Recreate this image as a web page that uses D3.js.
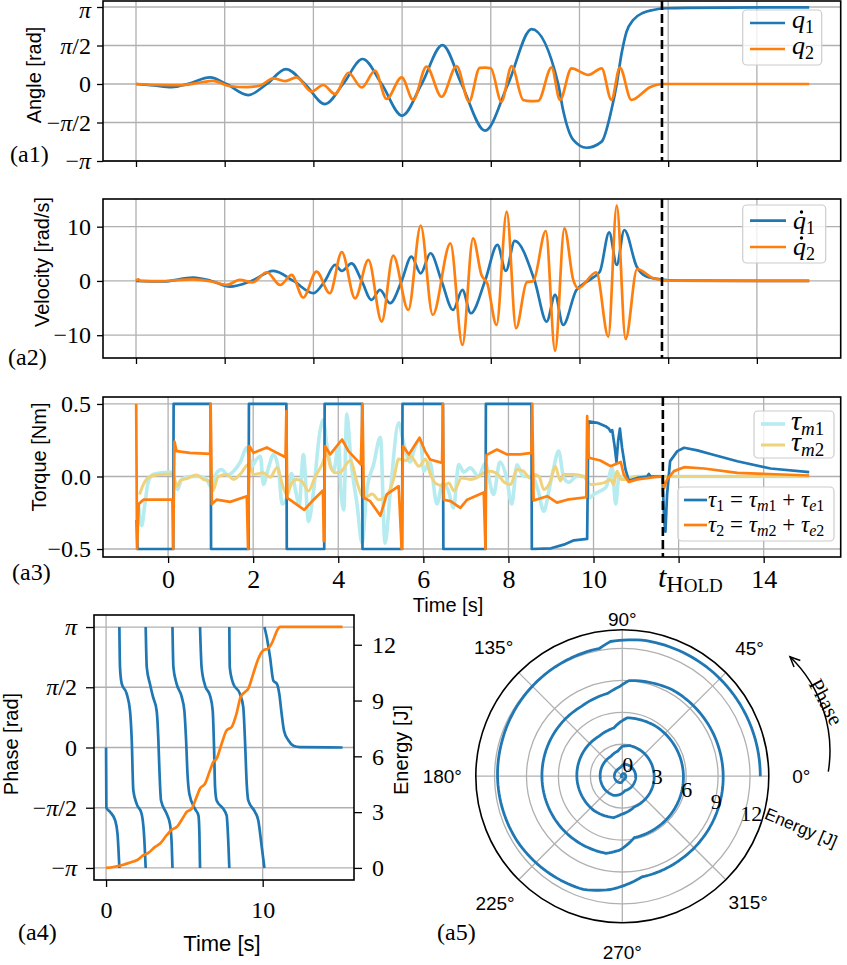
<!DOCTYPE html>
<html><head><meta charset="utf-8">
<script src="https://cdn.jsdelivr.net/npm/d3@7/dist/d3.min.js"></script>
<style>html,body{margin:0;padding:0;background:#fff;}svg{display:block;}</style>
</head><body>
<svg id="fig" width="847" height="965" viewBox="0 0 847 965"></svg>
<script>
// ================= DATA =================
const angleTicks = [-Math.PI, -Math.PI/2, 0, Math.PI/2, Math.PI];
const angleTickLabels = ["−π","−π/2","0","π/2","π"];
const velTicks = [-10, 0, 10];
const velTickLabels = ["−10","0","10"];
const torqueTicks = [-0.5, 0, 0.5];
const torqueTickLabels = ["−0.5","0.0","0.5"];
const timeTicksTop = [0,2,4,6,8,10,12,14];
const timeTicksTorque = [0,2,4,6,8,10,12,14];
const timeTickLabelsTorque = ["0","2","4","6","8","10","","14"];
const energyTicks = [0,3,6,9,12];
const energyTickLabels = ["0","3","6","9","12"];
const timeTicksA4 = [0,10];
const polarRings = [3,6,9,12];
const polarRadialLabels = [0,3,6,9,12];
const polarAngles = [0,45,90,135,180,225,270,315];
const tHoldTop = 11.86;     // time of HOLD in (a1)/(a2) time units
const tHoldTorque = 11.63;  // time of HOLD in (a3) time units

// (a1) joint angles [t, rad]
const q1 = [[0,0],[0.4,-0.06],[0.8,-0.13],[1.2,0.02],[1.67,0.27],[2.04,0],[2.53,-0.45],[2.95,0],[3.38,0.61],[3.81,0],[4.26,-0.82],[4.67,0],[5.11,1.02],[5.54,0],[6.0,-1.29],[6.44,0],[6.91,1.59],[7.34,0],[7.87,-1.9],[8.39,0],[8.92,2.24],[9.52,0],[9.63,-1.06],[9.86,-2.28],[10.16,-2.6],[10.5,-2.35],[10.72,-1.06],[10.84,0],[10.95,1.25],[11.06,2.13],[11.21,2.61],[11.44,2.91],[11.66,3.02],[11.96,3.09],[12.41,3.11],[15.18,3.13]];
const q2 = [[0,0],[0.5,-0.04],[1.0,-0.05],[1.4,0.05],[1.74,0.13],[2.1,-0.08],[2.5,-0.13],[2.8,-0.06],[3.1,0.23],[3.36,0.12],[3.62,0.27],[3.96,-0.31],[4.22,-0.04],[4.49,-0.41],[4.79,0.46],[5.09,-0.14],[5.39,0.54],[5.65,-0.61],[5.99,0.27],[6.25,-0.65],[6.55,0.71],[6.89,-0.52],[7.23,0.73],[7.51,-0.72],[7.75,0.66],[7.87,0.67],[8.0,0.64],[8.24,-0.72],[8.47,0.73],[8.73,-0.65],[8.9,-0.7],[9.07,-0.69],[9.37,0.68],[9.56,-0.65],[9.82,0.64],[10.2,0.37],[10.5,0.64],[10.72,-0.65],[10.91,0.67],[11.17,-0.65],[11.59,-0.13],[11.89,0],[15.18,0]];

// (a2) joint velocities [t, rad/s]
const dq1 = [[0,0],[0.6,-0.1],[1.29,0.61],[1.7,0],[2.12,-1.04],[2.6,0],[3.1,1.84],[3.55,0],[4.0,-2.27],[4.26,0],[4.49,2.95],[4.64,1.84],[4.86,3.25],[5.09,0],[5.31,-3.5],[5.5,-1.66],[5.73,-4.1],[5.99,0],[6.21,4.48],[6.42,1.41],[6.64,5.1],[6.89,0],[7.15,-5.34],[7.36,-1.66],[7.55,-5.95],[7.87,0],[8.15,6.63],[8.34,1.84],[8.54,7.37],[8.99,0],[9.26,-7.49],[9.45,-2.58],[9.63,-8.1],[9.93,-1.66],[10.1,-0.5],[10.3,0.6],[10.46,1.72],[10.67,8.96],[10.84,2.95],[11.01,9.39],[11.29,2.64],[11.51,0.8],[11.81,0.3],[12.2,0.05],[15.18,0]];
const dq2 = [[0,0],[0.05,0.3],[0.1,0],[0.5,-0.05],[1.29,0.3],[1.7,-0.1],[2.04,-0.74],[2.34,0.18],[2.63,-0.25],[2.95,1.6],[3.25,-0.74],[3.51,1.1],[3.77,-3.07],[4.07,1.72],[4.37,-2.27],[4.64,5.3],[4.94,-3.2],[5.24,3.87],[5.54,-7.5],[5.8,4.67],[6.14,-5.34],[6.42,10.19],[6.69,-6.26],[7.09,6.94],[7.36,-11.8],[7.6,7.86],[7.79,1.1],[7.92,-0.43],[8.13,-8.1],[8.36,12.77],[8.57,-8.72],[8.81,-0.25],[8.96,0],[9.24,9.2],[9.45,-12.9],[9.66,9.7],[9.86,0.18],[9.97,-1.35],[10.38,1.6],[10.65,-10.25],[10.84,13.87],[11.04,-10.7],[11.3,2.2],[11.66,0.5],[12.0,0.05],[15.18,0]];

// (a3) torques [t, Nm]
const tau1 = [[-0.74,-0.3],[-0.72,-0.5],[0.12,-0.5],[0.13,0.5],[1.0,0.5],[1.01,-0.5],[1.89,-0.5],[1.9,0.5],[2.78,0.5],[2.79,-0.5],[3.67,-0.5],[3.68,0.5],[4.56,0.5],[4.57,-0.5],[5.5,-0.5],[5.51,0.5],[6.46,0.5],[6.47,-0.5],[7.46,-0.5],[7.47,0.5],[8.54,0.5],[8.55,-0.5],[9.0,-0.495],[9.3,-0.47],[9.54,-0.44],[9.85,-0.43],[9.88,0.38],[10.09,0.37],[10.28,0.347],[10.36,0.33],[10.4,0.31],[10.44,0.32],[10.5,0.2],[10.54,0.1],[10.58,0.25],[10.62,0.33],[10.67,0.2],[10.75,0.05],[10.83,-0.03],[11.03,-0.01],[11.26,0],[11.3,0.018],[11.34,0],[11.62,0],[11.66,-0.3],[11.69,-0.38],[11.73,-0.12],[11.8,0.106],[11.97,0.175],[12.13,0.198],[12.44,0.18],[12.75,0.155],[13.38,0.105],[14.16,0.055],[15.07,0.03]];
const tau2 = [[-0.75,0.5],[-0.73,-0.5],[-0.69,-0.19],[-0.58,-0.16],[0.1,-0.16],[0.12,-0.5],[0.15,0.24],[0.2,0.175],[0.51,0.163],[0.99,0.156],[1.0,0.5],[1.03,-0.19],[1.14,-0.16],[1.46,-0.175],[1.85,-0.136],[1.88,-0.5],[1.91,0.21],[2.01,0.163],[2.32,0.2],[2.48,0.175],[2.76,0.133],[2.78,0.45],[2.8,-0.147],[2.91,-0.17],[3.2,-0.23],[3.42,-0.16],[3.64,-0.097],[3.66,-0.446],[3.69,0.21],[3.81,0.152],[4.09,0.255],[4.24,0.175],[4.53,0.083],[4.57,0.5],[4.6,-0.147],[4.75,-0.17],[4.99,-0.27],[5.14,-0.124],[5.42,-0.067],[5.49,-0.5],[5.52,0.21],[5.66,0.152],[5.91,0.267],[6.04,0.175],[6.16,0.117],[6.44,0.094],[6.46,0.5],[6.48,-0.16],[6.64,-0.17],[6.87,-0.216],[7.03,-0.16],[7.42,-0.11],[7.46,-0.5],[7.48,0.147],[7.73,0.186],[7.97,0.152],[8.28,0.152],[8.54,0.163],[8.56,0.5],[8.59,-0.166],[8.91,-0.136],[9.14,-0.18],[9.38,-0.16],[9.83,-0.143],[9.85,0.416],[9.89,0.129],[10.16,0.11],[10.4,0.071],[10.64,0.1],[10.71,0.014],[10.83,-0.037],[11.03,-0.02],[11.42,-0.005],[11.62,0],[11.66,-0.078],[11.73,-0.02],[11.89,0.037],[12.13,0.064],[12.6,0.055],[13.38,0.025],[15.07,0.007]];
const tauM1 = [[-0.7,-0.19],[-0.62,-0.34],[-0.55,-0.2],[-0.46,-0.03],[-0.35,0.014],[-0.15,0.025],[0.09,0.03],[0.22,-0.09],[0.32,-0.02],[0.5,0],[0.75,0],[0.9,-0.02],[1.03,-0.078],[1.14,0.025],[1.26,0.048],[1.4,0.01],[1.55,0.04],[1.7,0.1],[1.85,0.2],[1.97,0.07],[2.08,0.12],[2.17,0.14],[2.24,-0.055],[2.35,0.05],[2.48,0.152],[2.6,0.037],[2.68,-0.19],[2.79,-0.147],[2.9,0.02],[3.0,-0.1],[3.08,-0.2],[3.18,0.152],[3.3,-0.31],[3.41,-0.124],[3.57,0.31],[3.65,0.39],[3.73,0.22],[3.89,0.037],[4.01,0.22],[4.06,-0.078],[4.13,-0.23],[4.2,0.43],[4.3,0.1],[4.44,-0.19],[4.56,-0.46],[4.67,-0.1],[4.83,0.083],[4.99,0.27],[5.1,-0.46],[5.22,-0.12],[5.42,0.37],[5.53,0.24],[5.69,0.1],[5.8,0.2],[5.93,0.255],[6.01,0.037],[6.15,0.1],[6.32,-0.19],[6.45,-0.05],[6.59,-0.1],[6.71,-0.216],[6.83,0.083],[6.95,0.03],[7.1,0.06],[7.3,0.0],[7.45,0.09],[7.65,-0.124],[7.8,0.1],[7.95,0.0],[8.08,-0.19],[8.2,0.08],[8.35,0.0],[8.55,0.0],[8.7,-0.1],[8.83,-0.24],[8.95,-0.1],[9.05,0.04],[9.18,0.175],[9.3,-0.01],[9.42,-0.04],[9.6,0.0],[9.85,0.0],[9.89,-0.147],[10.0,-0.124],[10.16,-0.1],[10.3,-0.07],[10.44,0.06],[10.52,-0.19],[10.6,0.0],[10.8,-0.01],[11.0,0.0],[11.62,0.0],[15.07,0]];
const tauM2 = [[-0.67,-0.124],[-0.58,-0.055],[-0.42,0],[-0.19,0.014],[0.09,0.018],[0.16,-0.03],[0.22,-0.067],[0.28,-0.03],[0.44,-0.014],[0.67,0.01],[0.83,-0.02],[0.99,-0.037],[1.05,-0.1],[1.18,0],[1.38,0.014],[1.54,-0.02],[1.69,0.014],[1.89,0.083],[2.01,0.014],[2.24,0.025],[2.4,-0.005],[2.56,0.06],[2.71,-0.078],[2.79,-0.124],[2.91,-0.044],[3.02,-0.02],[3.14,-0.032],[3.3,-0.1],[3.46,0],[3.62,0.083],[3.73,0.163],[3.81,0.071],[3.93,0.025],[4.05,0.03],[4.28,0.11],[4.45,-0.05],[4.6,-0.15],[4.8,-0.12],[4.95,-0.16],[5.14,-0.13],[5.3,-0.02],[5.42,0.12],[5.6,0.11],[5.7,0.14],[5.9,0.07],[6.05,0.12],[6.16,0.02],[6.3,-0.05],[6.48,-0.065],[6.6,-0.045],[6.72,-0.1],[6.9,-0.01],[7.1,-0.02],[7.25,-0.01],[7.42,0.025],[7.58,0.037],[7.75,0.014],[7.9,-0.04],[8.05,-0.055],[8.2,0.048],[8.35,0.037],[8.5,-0.01],[8.6,0.014],[8.72,0.0],[8.83,-0.09],[8.99,-0.03],[9.1,0.07],[9.22,-0.03],[9.3,0.014],[9.54,0.014],[9.77,0.0],[9.85,-0.03],[9.93,-0.055],[10.24,-0.044],[10.4,-0.02],[10.47,-0.055],[10.55,0.037],[10.65,-0.02],[10.79,-0.02],[11.0,0],[15.07,0]];

// (a4) wrapped phase [t, rad] and energy [t, J]
const phase = [[0,0],[0.02,-1.571],[0.26,-1.681],[0.58,-1.901],[0.73,-2.246],[0.85,-3.1416],
 [0.85,3.1416],[0.89,2.089],[1.0,1.665],[1.32,1.398],[1.53,0.958],[1.64,0.188],[1.74,-1.115],[1.96,-1.477],[2.27,-1.728],[2.42,-2.246],[2.53,-3.1416],
 [2.53,3.1416],[2.6,2.089],[2.8,1.665],[3.0,1.319],[3.23,0.958],[3.34,0.188],[3.4,-0.518],[3.51,-1.382],[3.87,-1.728],[4.08,-1.995],[4.19,-2.513],[4.24,-3.1416],
 [4.24,3.1416],[4.3,2.089],[4.5,1.665],[4.83,1.319],[5.0,0.958],[5.11,0.188],[5.2,-0.691],[5.32,-1.21],[5.68,-1.602],[5.9,-1.775],[5.96,-2.246],[6.0,-3.1416],
 [6.0,3.1416],[6.1,2.089],[6.32,1.618],[6.64,1.351],[6.81,0.958],[6.9,-0.079],[6.96,-1.037],[7.06,-1.382],[7.49,-1.602],[7.7,-1.775],[7.8,-2.419],[7.87,-3.1416],
 [7.87,3.1416],[7.9,2.089],[8.12,1.665],[8.55,1.398],[8.76,1.052],[8.87,0.188],[8.98,-0.942],[9.08,-1.382],[9.51,-1.681],[9.72,-1.901],[9.94,-2.592],[10.11,-3.1416],
 [10.11,3.1416],[10.26,2.875],[10.47,2.356],[10.68,1.744],[10.9,1.665],[11.06,1.398],[11.21,0.88],[11.36,0.44],[11.64,0.188],[11.96,0.047],[12.38,0.01],[15.1,0]];
const energy = [[0,0],[0.47,0.05],[1.0,0.14],[1.64,0.32],[1.96,0.41],[2.38,0.68],[2.7,0.81],[3.13,1.13],[3.45,1.31],[3.87,1.76],[4.19,2.06],[4.51,2.2],[4.94,2.74],[5.15,3.01],[5.47,3.19],[5.78,3.82],[6.0,4.27],[6.32,4.53],[6.64,5.25],[6.85,5.7],[7.06,5.88],[7.38,6.68],[7.7,7.4],[8.02,7.58],[8.33,8.3],[8.59,9.19],[8.87,9.46],[9.08,9.64],[9.4,10.45],[9.72,11.25],[10.04,11.7],[10.36,11.8],[10.57,12.06],[10.99,12.87],[11.1,12.96],[15.1,12.96]];

// (a5) phase portrait [phase deg, energy J]
const spiral = [[0,0],[-90,0],[-96,0.03],[-109,0.06],[-129,0.09],[-180,0.11],
 [180,0.11],[120,0.12],[95,0.16],[80,0.24],[55,0.29],[11,0.32],[-64,0.35],[-85,0.41],[-99,0.6],[-129,0.7],[-180,0.74],
 [180,0.74],[120,0.77],[100,0.85],[88,1.05],[76,1.15],[55,1.2],[11,1.25],[-30,1.28],[-79,1.38],[-99,1.76],[-114,1.97],[-144,2.06],[-180,2.08],
 [180,2.08],[120,2.15],[100,2.4],[90,2.8],[76,2.95],[55,2.97],[11,2.98],[-40,3.04],[-69,3.1],[-92,3.6],[-102,3.97],[-129,4.18],[-180,4.27],
 [180,4.27],[120,4.35],[100,4.6],[92,5.1],[85,5.5],[55,5.65],[-5,5.75],[-59,5.82],[-79,5.88],[-92,6.95],[-102,7.4],[-139,7.5],[-180,7.55],
 [180,7.55],[120,7.6],[100,7.9],[92,8.4],[86,9.0],[60,9.38],[11,9.46],[-54,9.55],[-79,9.64],[-96,10.7],[-109,11.25],[-148,11.6],[-180,11.72],
 [180,11.72],[165,11.76],[135,11.95],[100,12.2],[95,12.7],[80,12.93],[50,12.96],[25,12.96],[11,12.96],[3,12.96],[0.5,12.96],[0,12.96]];

// ================= STYLE =================
const SERIF = "'Liberation Serif','DejaVu Serif',serif";
const SANS = "'Liberation Sans','DejaVu Sans',sans-serif";
const BLUE = "#1f77b4", ORANGE = "#ff7f0e", CYAN = "#b6ebf0", YELLOW = "#efd27c", GRID = "#b0b0b0";
const svg = d3.select("#fig");
const defs = svg.append("defs");

function clipRect(id, x0, y0, x1, y1){
  defs.append("clipPath").attr("id", id).append("rect")
    .attr("x", x0).attr("y", y0).attr("width", x1 - x0).attr("height", y1 - y0);
}
function mathify(sel, str){
  sel.text(null);
  str.split(/(π)/).forEach(p => { if (p === "") return;
    sel.append("tspan").attr("font-style", p === "π" ? "italic" : "normal").text(p); });
}
function styleAxis(a, size){
  a.select(".domain").remove();
  a.attr("font-family", SERIF).attr("font-size", size);
  a.selectAll(".tick line").attr("stroke", "#000").attr("stroke-width", 1.3);
  a.selectAll(".tick text").attr("fill", "#000");
}
function gridX(g, x, ticks, y0, y1){
  g.append("g").selectAll("line").data(ticks).join("line")
    .attr("x1", d => x(d)).attr("x2", d => x(d)).attr("y1", y0).attr("y2", y1)
    .attr("stroke", GRID).attr("stroke-width", 1.3);
}
function gridY(g, y, ticks, x0, x1){
  g.append("g").selectAll("line").data(ticks).join("line")
    .attr("y1", d => y(d)).attr("y2", d => y(d)).attr("x1", x0).attr("x2", x1)
    .attr("stroke", GRID).attr("stroke-width", 1.3);
}
function frame(g, x0, y0, x1, y1){
  g.append("rect").attr("x", x0).attr("y", y0).attr("width", x1 - x0).attr("height", y1 - y0)
    .attr("fill", "none").attr("stroke", "#000").attr("stroke-width", 1.6);
}
function curvePath(g, data, x, y, color, w, curve, clip){
  g.append("path").datum(data)
    .attr("d", d3.line().x(d => x(d[0])).y(d => y(d[1])).curve(curve))
    .attr("fill", "none").attr("stroke", color).attr("stroke-width", w)
    .attr("stroke-linejoin", "round").attr("stroke-linecap", "butt")
    .attr("clip-path", `url(#${clip})`);
}
// math text: parts = [[text, italic, sub]]
function mathLabel(t, parts, size, subSize, shift){
  let inSub = false;
  parts.forEach(([s, it, sub]) => {
    const sp = t.append("tspan").text(s)
      .attr("font-style", it ? "italic" : "normal")
      .attr("font-size", sub ? subSize : size);
    if (sub && !inSub) sp.attr("dy", shift);
    if (!sub && inSub) sp.attr("dy", -shift);
    inSub = !!sub;
  });
}
function legend(g, box, entries){
  g.append("rect").attr("x", box[0]).attr("y", box[1]).attr("width", box[2]).attr("height", box[3])
    .attr("rx", 4).attr("fill", "#fff").attr("fill-opacity", 0.8)
    .attr("stroke", "#cccccc").attr("stroke-width", 1.2);
  entries.forEach(e => {
    g.append("line").attr("x1", e.x1).attr("x2", e.x2).attr("y1", e.y).attr("y2", e.y)
      .attr("stroke", e.color).attr("stroke-width", e.w);
    const t = g.append("text").attr("x", e.tx).attr("y", e.ty).attr("font-family", SERIF).attr("fill", "#000");
    e.build(t);
    if (e.dot) g.append("circle").attr("cx", e.tx + e.dot[0]).attr("cy", e.ty - e.dot[1]).attr("r", 1.7).attr("fill", "#000");
  });
}
function leftAxis(g, x0, y, ticks, labels, size, tsize, pad){
  const a = g.append("g").attr("transform", `translate(${x0},0)`)
    .call(d3.axisLeft(y).tickValues(ticks).tickSize(tsize).tickSizeOuter(0).tickPadding(pad).tickFormat((d, i) => labels[i]));
  styleAxis(a, size);
  a.selectAll(".tick text").each(function(d, i){ mathify(d3.select(this), labels[i]); });
  return a;
}
function bottomAxis(g, y0, x, ticks, labels, size, tsize, pad){
  const a = g.append("g").attr("transform", `translate(0,${y0})`)
    .call(d3.axisBottom(x).tickValues(ticks).tickSize(tsize).tickSizeOuter(0).tickPadding(pad).tickFormat((d, i) => labels ? labels[i] : ""));
  styleAxis(a, size);
  return a;
}
function rotLabel(x, y, txt, size, rot){
  svg.append("text").attr("transform", `translate(${x},${y}) rotate(${rot})`)
    .attr("text-anchor", "middle").attr("font-family", SANS).attr("font-size", size).attr("fill", "#000").text(txt);
}
function panelTag(x, y, txt){
  svg.append("text").attr("x", x).attr("y", y).attr("font-family", SERIF).attr("font-size", 24).attr("fill", "#000").text(txt);
}

// ================= LAYOUT / SCALES =================
const L = 103, R = 840.7;
const xTop = d3.scaleLinear().domain([-0.744, 15.89]).range([L, R]);
const xTq = d3.scaleLinear().domain([-1.53, 15.81]).range([L, R]);
const yA1 = d3.scaleLinear().domain([-Math.PI, Math.PI + 0.245]).range([161, 1]);
const yA2 = d3.scaleLinear().domain([-14.2, 15.1]).range([358, 199]);
const yA3 = d3.scaleLinear().domain([-0.555, 0.548]).range([557, 397]);

// ---------- (a1) ----------
{
  const g = svg.append("g"); const T = 1, B = 161;
  clipRect("c1", L, T, R, B);
  gridX(g, xTop, timeTicksTop, T, B); gridY(g, yA1, angleTicks, L, R);
  curvePath(g, q1, xTop, yA1, BLUE, 2.7, d3.curveMonotoneX, "c1");
  curvePath(g, q2, xTop, yA1, ORANGE, 2.7, d3.curveMonotoneX, "c1");
  g.append("line").attr("x1", xTop(tHoldTop)).attr("x2", xTop(tHoldTop)).attr("y1", T).attr("y2", B)
    .attr("stroke", "#000").attr("stroke-width", 2.6).attr("stroke-dasharray", "9,4");
  frame(g, L, T, R, B);
  const la = leftAxis(g, L, yA1, angleTicks, angleTickLabels, 24, 6, 6);
  la.selectAll(".tick text").filter((d, i) => i === 4).attr("dy", "0.42em");
  bottomAxis(g, B, xTop, timeTicksTop, null, 24, 6, 4);
  legend(g, [742.7, 10, 79, 55], [
    {x1: 750, x2: 785, y: 23, color: BLUE, w: 2.7, tx: 792, ty: 28,
     build: t => mathLabel(t, [["q", true], ["1", false, true]], 26, 18, 5)},
    {x1: 750, x2: 785, y: 49, color: ORANGE, w: 2.7, tx: 792, ty: 54,
     build: t => mathLabel(t, [["q", true], ["2", false, true]], 26, 18, 5)}
  ]);
  rotLabel(41, 75, "Angle [rad]", 20, -90);
  panelTag(10, 162, "(a1)");
}

// ---------- (a2) ----------
{
  const g = svg.append("g"); const T = 199, B = 358;
  clipRect("c2", L, T, R, B);
  gridX(g, xTop, timeTicksTop, T, B); gridY(g, yA2, velTicks, L, R);
  curvePath(g, dq1, xTop, yA2, BLUE, 2.7, d3.curveMonotoneX, "c2");
  curvePath(g, dq2, xTop, yA2, ORANGE, 2.7, d3.curveMonotoneX, "c2");
  g.append("line").attr("x1", xTop(tHoldTop)).attr("x2", xTop(tHoldTop)).attr("y1", T).attr("y2", B)
    .attr("stroke", "#000").attr("stroke-width", 2.6).attr("stroke-dasharray", "9,4");
  frame(g, L, T, R, B);
  leftAxis(g, L, yA2, velTicks, velTickLabels, 24, 6, 6);
  bottomAxis(g, B, xTop, timeTicksTop, null, 24, 6, 4);
  legend(g, [742.7, 205, 83, 58], [
    {x1: 750, x2: 786, y: 220.7, color: BLUE, w: 2.7, tx: 793, ty: 229, dot: [8.5, 17],
     build: t => mathLabel(t, [["q", true], ["1", false, true]], 26, 18, 5)},
    {x1: 750, x2: 786, y: 247, color: ORANGE, w: 2.7, tx: 793, ty: 255, dot: [8.5, 17],
     build: t => mathLabel(t, [["q", true], ["2", false, true]], 26, 18, 5)}
  ]);
  rotLabel(49, 262, "Velocity [rad/s]", 20, -90);
  panelTag(8, 365, "(a2)");
}

// ---------- (a3) ----------
{
  const g = svg.append("g"); const T = 397, B = 557;
  clipRect("c3", L, T, R, B);
  gridX(g, xTq, timeTicksTorque, T, B); gridY(g, yA3, torqueTicks, L, R);
  curvePath(g, tauM1, xTq, yA3, CYAN, 3.6, d3.curveMonotoneX, "c3");
  curvePath(g, tauM2, xTq, yA3, YELLOW, 3.0, d3.curveMonotoneX, "c3");
  curvePath(g, tau1, xTq, yA3, BLUE, 2.7, d3.curveLinear, "c3");
  curvePath(g, tau2, xTq, yA3, ORANGE, 2.7, d3.curveLinear, "c3");
  g.append("line").attr("x1", xTq(tHoldTorque)).attr("x2", xTq(tHoldTorque)).attr("y1", T).attr("y2", B)
    .attr("stroke", "#000").attr("stroke-width", 2.6).attr("stroke-dasharray", "9,4");
  frame(g, L, T, R, B);
  leftAxis(g, L, yA3, torqueTicks, torqueTickLabels, 24, 6, 6);
  bottomAxis(g, B, xTq, timeTicksTorque, timeTickLabelsTorque, 26, 6, 7);
  // t_HOLD tick label
  const th = g.append("text").attr("x", 658).attr("y", 587).attr("font-family", SERIF).attr("fill", "#000");
  th.append("tspan").attr("font-style", "italic").attr("font-size", 30).text("t");
  th.append("tspan").attr("font-size", 24).attr("dy", 5).text("H");
  th.append("tspan").attr("font-size", 19).text("OLD");
  legend(g, [754, 411, 80, 47], [
    {x1: 761, x2: 785, y: 424, color: CYAN, w: 3.6, tx: 791, ty: 430,
     build: t => mathLabel(t, [["τ", true], ["m", true, true], ["1", false, true]], 28, 19, 5)},
    {x1: 761, x2: 785, y: 445, color: YELLOW, w: 3.0, tx: 791, ty: 451,
     build: t => mathLabel(t, [["τ", true], ["m", true, true], ["2", false, true]], 28, 19, 5)}
  ]);
  legend(g, [678, 487, 156, 54], [
    {x1: 684, x2: 707, y: 500, color: BLUE, w: 2.7, tx: 708, ty: 507,
     build: t => mathLabel(t, [["τ", true], ["1", false, true], [" = ", false], ["τ", true], ["m", true, true], ["1", false, true], [" + ", false], ["τ", true], ["e", true, true], ["1", false, true]], 23, 16, 4)},
    {x1: 684, x2: 707, y: 525, color: ORANGE, w: 2.7, tx: 708, ty: 532,
     build: t => mathLabel(t, [["τ", true], ["2", false, true], [" = ", false], ["τ", true], ["m", true, true], ["2", false, true], [" + ", false], ["τ", true], ["e", true, true], ["2", false, true]], 23, 16, 4)}
  ]);
  rotLabel(46, 457, "Torque [Nm]", 20, -90);
  svg.append("text").attr("x", 448).attr("y", 612).attr("text-anchor", "middle")
    .attr("font-family", SANS).attr("font-size", 20).attr("fill", "#000").text("Time [s]");
  panelTag(12, 580, "(a3)");
}

// ---------- (a4) ----------
{
  const g = svg.append("g"); const X0 = 94, X1 = 354, T = 615, B = 880;
  const x = d3.scaleLinear().domain([-0.77, 15.83]).range([X0, X1]);
  const yP = d3.scaleLinear().domain([-Math.PI - 0.314, Math.PI + 0.314]).range([B, T]);
  const yE = d3.scaleLinear().domain([-0.65, 13.6]).range([B, T]);
  clipRect("c4", X0, T, X1, B);
  gridX(g, x, timeTicksA4, T, B); gridY(g, yP, angleTicks, X0, X1);
  // split wrapped phase into continuous segments
  const segs = []; let cur = [];
  phase.forEach((p, i) => {
    if (i > 0 && Math.abs(p[1] - phase[i-1][1]) > Math.PI) { segs.push(cur); cur = []; }
    cur.push(p);
  });
  segs.push(cur);
  segs.forEach(s => curvePath(g, s, x, yP, BLUE, 2.7, d3.curveMonotoneX, "c4"));
  curvePath(g, energy, x, yE, ORANGE, 2.7, d3.curveMonotoneX, "c4");
  frame(g, X0, T, X1, B);
  leftAxis(g, X0, yP, angleTicks, angleTickLabels, 24, 8, 9);
  const ar = g.append("g").attr("transform", `translate(${X1},0)`)
    .call(d3.axisRight(yE).tickValues(energyTicks).tickSize(8).tickSizeOuter(0).tickPadding(10).tickFormat((d, i) => energyTickLabels[i]));
  styleAxis(ar, 24);
  bottomAxis(g, B, x, timeTicksA4, ["0", "10"], 24, 7, 14);
  rotLabel(18, 744, "Phase [rad]", 20, -90);
  rotLabel(408, 750, "Energy [J]", 20, -90);
  svg.append("text").attr("x", 222).attr("y", 951).attr("text-anchor", "middle")
    .attr("font-family", SANS).attr("font-size", 22).attr("fill", "#000").text("Time [s]");
  panelTag(18, 940, "(a4)");
}

// ---------- (a5) polar ----------
{
  const cx = 622.3, cy = 776.2, Rmax = 146.5;
  const r = d3.scaleLinear().domain([0, 13.76]).range([0, Rmax]);
  const g = svg.append("g").attr("transform", `translate(${cx},${cy})`);
  const rad = a => a * Math.PI / 180;
  g.append("g").selectAll("circle").data(polarRings).join("circle")
    .attr("r", d => r(d)).attr("fill", "none").attr("stroke", GRID).attr("stroke-width", 1.3);
  g.append("g").selectAll("line").data(polarAngles).join("line")
    .attr("x1", 0).attr("y1", 0)
    .attr("x2", d => Rmax * Math.cos(rad(d))).attr("y2", d => -Rmax * Math.sin(rad(d)))
    .attr("stroke", GRID).attr("stroke-width", 1.3);
  // polar line: segments drawn along constant-rate arcs between samples (as in polar axes)
  const pts = [];
  for (let i = 0; i < spiral.length; i++) {
    const [a1, e1] = spiral[i];
    if (i === 0) { pts.push([a1, e1]); continue; }
    const [a0, e0] = spiral[i-1];
    let da = a1 - a0; while (da > 180) da -= 360; while (da < -180) da += 360;
    const n = Math.max(1, Math.ceil(Math.abs(da) / 2));
    for (let k = 1; k <= n; k++) pts.push([a0 + da * k / n, e0 + (e1 - e0) * k / n]);
  }
  g.append("path").datum(pts)
    .attr("d", d3.lineRadial().angle(d => rad(90 - d[0])).radius(d => r(d[1])))
    .attr("fill", "none").attr("stroke", BLUE).attr("stroke-width", 2.8).attr("stroke-linejoin", "round");
  g.append("circle").attr("r", Rmax).attr("fill", "none").attr("stroke", "#000").attr("stroke-width", 1.6);
  // theta labels
  const labR = [179, 180, 157, 182, 180, 180, 176, 178];
  g.append("g").selectAll("text").data(polarAngles).join("text")
    .attr("x", (d, i) => labR[i] * Math.cos(rad(d)))
    .attr("y", (d, i) => -labR[i] * Math.sin(rad(d)))
    .attr("text-anchor", "middle").attr("dominant-baseline", "central")
    .attr("font-family", SANS).attr("font-size", 19).attr("fill", "#000")
    .text(d => d + "°");
  // radial labels at -22.5°
  g.append("g").selectAll("text").data(polarRadialLabels).join("text")
    .attr("x", d => r(d) * Math.cos(rad(22.5)))
    .attr("y", d => r(d) * Math.sin(rad(22.5)) - 4)
    .attr("font-family", SERIF).attr("font-size", 22).attr("fill", "#000").text(d => d);
  // Energy [J] label
  svg.append("text").attr("transform", "translate(801,828) rotate(22.7)")
    .attr("text-anchor", "middle").attr("dominant-baseline", "central")
    .attr("font-family", SANS).attr("font-size", 17).attr("fill", "#000").text("Energy [J]");
  // Phase arrow
  const arc = svg.append("path").attr("d", "M828.3,771.7 A131,131 0 0 0 790,656.7")
    .attr("fill", "none").attr("stroke", "#000").attr("stroke-width", 1.5);
  const node = arc.node(), Lz = node.getTotalLength();
  const pE = node.getPointAtLength(Lz), pB = node.getPointAtLength(Lz - 2);
  const ang = Math.atan2(pE.y - pB.y, pE.x - pB.x);
  const hl = 11, hw = 0.42;
  svg.append("path")
    .attr("d", `M${pE.x - hl*Math.cos(ang - hw)},${pE.y - hl*Math.sin(ang - hw)} L${pE.x},${pE.y} L${pE.x - hl*Math.cos(ang + hw)},${pE.y - hl*Math.sin(ang + hw)}`)
    .attr("fill", "none").attr("stroke", "#000").attr("stroke-width", 1.5);
  svg.append("text").attr("transform", "translate(826,702) rotate(62)")
    .attr("text-anchor", "middle").attr("dominant-baseline", "central")
    .attr("font-family", SERIF).attr("font-size", 21).attr("fill", "#000").text("Phase");
  panelTag(437, 940, "(a5)");
}
</script>
</body></html>
